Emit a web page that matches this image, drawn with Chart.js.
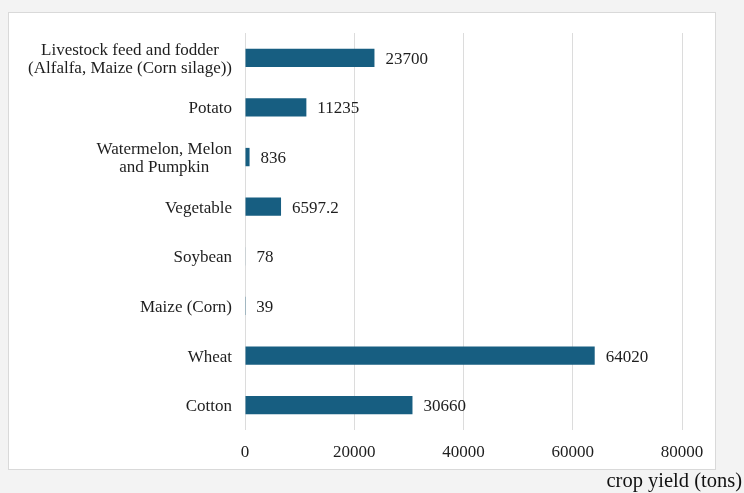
<!DOCTYPE html>
<html>
<head>
<meta charset="utf-8">
<title>crop yield</title>
<script src="https://cdn.jsdelivr.net/npm/chart.js@4.4.1/dist/chart.umd.min.js"></script>
<style>
  html, body { margin: 0; padding: 0; background: #f3f3f3; }
  #page { position: relative; width: 744px; height: 493px; overflow: hidden; }
  #frame {
    position: absolute; left: 8px; top: 12px; width: 706px; height: 456px;
    background: #fff; border: 1px solid #d9d9d9;
  }
  #chart-wrap { position: absolute; left: 0; top: 0; width: 744px; height: 493px; }
  #x-title {
    position: absolute; right: 2px; top: 469px; line-height: 24px;
    font: 20.5px 'Liberation Serif', 'Times New Roman', serif; color: #111;
  }
</style>
</head>
<body>
<div id="page">
  <div id="frame"></div>
  <div id="chart-wrap"><canvas id="crop-chart"></canvas></div>
  <div id="x-title">crop yield (tons)</div>
</div>

<script>
// ─── 数据 ────────────────────────────────────────────
const categories = [
  ['Livestock feed and fodder', '(Alfalfa, Maize (Corn silage))'],
  'Potato',
  ['Watermelon, Melon', 'and Pumpkin'],
  'Vegetable',
  'Soybean',
  'Maize (Corn)',
  'Wheat',
  'Cotton',
];
const yieldTons = [23700, 11235, 836, 6597.2, 78, 39, 64020, 30660];
const xTicks = [0, 20000, 40000, 60000, 80000];

const FONT = "'Liberation Serif', 'Times New Roman', serif";
const TEXT = '#1e1e1e';

// y 轴标签：多行居中，整体右对齐
const catLabels = {
  id: 'catLabels',
  afterDraw(chart) {
    const { ctx } = chart;
    const y = chart.scales.y;
    const right = y.right - 13;
    const lh = 18.5;
    ctx.save();
    ctx.font = `17px ${FONT}`;
    ctx.fillStyle = TEXT;
    ctx.textAlign = 'center';
    ctx.textBaseline = 'middle';
    categories.forEach((c, i) => {
      const lines = Array.isArray(c) ? c : [c];
      const w = Math.max(...lines.map(l => ctx.measureText(l).width));
      const cx = right - w / 2;
      const cy = y.getPixelForTick(i) + 1.5;
      lines.forEach((l, k) => {
        ctx.fillText(l, cx, cy + (k - (lines.length - 1) / 2) * lh);
      });
    });
    ctx.restore();
  },
};

// 数值标签：条形末端右侧
const valueLabels = {
  id: 'valueLabels',
  afterDatasetsDraw(chart) {
    const { ctx } = chart;
    const meta = chart.getDatasetMeta(0);
    ctx.save();
    ctx.font = `17px ${FONT}`;
    ctx.fillStyle = TEXT;
    ctx.textAlign = 'left';
    ctx.textBaseline = 'middle';
    meta.data.forEach((bar, i) => {
      ctx.fillText(String(yieldTons[i]), bar.x + 11, bar.y + 1.5);
    });
    ctx.restore();
  },
};

new Chart(document.getElementById('crop-chart'), {
  type: 'bar',
  data: {
    labels: categories,
    datasets: [{
      data: yieldTons,
      backgroundColor: '#175e81',
      borderWidth: 0,
      barPercentage: 0.37,
      categoryPercentage: 1,
    }],
  },
  options: {
    indexAxis: 'y',
    responsive: true,
    maintainAspectRatio: false,
    animation: false,
    layout: { padding: { left: 8, right: 62, top: 33, bottom: 23 } },
    scales: {
      x: {
        min: 0, max: 80000,
        afterBuildTicks: s => { s.ticks = xTicks.map(v => ({ value: v })); },
        afterFit: s => { s.height = 40; },
        border: { display: false },
        grid: { color: '#dcdcdc', lineWidth: 1, drawTicks: false },
        ticks: {
          padding: 12,
          color: TEXT,
          font: { family: FONT, size: 17 },
          callback: v => String(v),
        },
      },
      y: {
        afterFit: s => { s.width = 237; },
        border: { display: false },
        grid: { display: false },
        ticks: { display: false },
      },
    },
    plugins: {
      legend: { display: false },
      tooltip: { enabled: false },
    },
  },
  plugins: [catLabels, valueLabels],
});
</script>
</body>
</html>
